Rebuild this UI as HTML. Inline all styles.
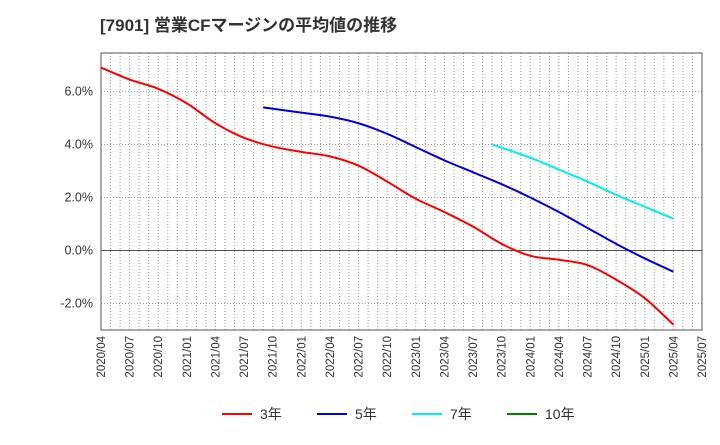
<!DOCTYPE html>
<html><head><meta charset="utf-8"><style>
body{margin:0;background:#fff;font-family:"Liberation Sans","Noto Sans CJK JP",sans-serif;}
</style></head><body>
<svg width="720" height="440" xmlns="http://www.w3.org/2000/svg" style="font-family:'Liberation Sans','Noto Sans CJK JP',sans-serif">
<text x="100" y="31" font-size="17" font-weight="bold" fill="#333">[7901]  営業CFマージンの平均値の推移</text>
<g id="grid"></g><g id="axes"></g><g id="series"></g><g id="legend"></g>
</svg>
<script>
const xLabels=["2020/04","2020/07","2020/10","2021/01","2021/04","2021/07","2021/10","2022/01","2022/04","2022/07","2022/10","2023/01","2023/04","2023/07","2023/10","2024/01","2024/04","2024/07","2024/10","2025/01","2025/04","2025/07"];
const yTicks=[-2,0,2,4,6];
const m3=[0,3,6,9,12,15,18,21,24,27,30,33,36,39,42,45,48,51,54,57,60];
const s3=[6.9,6.45,6.1,5.55,4.8,4.25,3.92,3.72,3.55,3.2,2.6,1.95,1.45,0.9,0.25,-0.2,-0.35,-0.55,-1.1,-1.8,-2.8];
const m5=[17,21,24,27,30,33,36,39,42,45,48,51,54,57,60];
const s5=[5.4,5.2,5.05,4.8,4.4,3.9,3.4,2.95,2.5,2.0,1.45,0.85,0.25,-0.3,-0.8];
const m7=[41,45,48,51,54,57,60];
const s7=[4.0,3.5,3.05,2.6,2.1,1.65,1.2];
const m10=[];
const s10=[];
const L=101,R=702,T=53,B=330,yMin=-3,yMax=7.45;
const xm=m=>L+m*(R-L)/63;
const xs=i=>L+i*(R-L)/21;
const ys=v=>B-(v-yMin)/(yMax-yMin)*(B-T);
const NS="http://www.w3.org/2000/svg";
function mk(t,a,p){const e=document.createElementNS(NS,t);for(const k in a)e.setAttribute(k,a[k]);p.appendChild(e);return e;}
const grid=document.getElementById('grid'),axes=document.getElementById('axes'),ser=document.getElementById('series'),leg=document.getElementById('legend');
for(let m=1;m<63;m++){const x=xm(m);const l=mk('line',{x1:x,x2:x,y1:T,y2:B,stroke:'#999','stroke-dasharray':'1,2','stroke-width':1},grid);

}
yTicks.forEach(v=>{const y=ys(v);const l=mk('line',{x1:L,x2:R,y1:y,y2:y,stroke:v===0?'#555':'#999','stroke-dasharray':v===0?'':'1,2','stroke-width':1},grid);


const t=mk('text',{x:L-8,y:y+4,'text-anchor':'end','font-size':12.5,fill:'#333'},axes);t.textContent=v.toFixed(1)+'%';

});
const fr=mk('rect',{x:L,y:T,width:R-L,height:B-T,fill:'none',stroke:'#555'},axes);


xLabels.forEach((s,i)=>{const x=xs(i);const t=mk('text',{x:0,y:0,transform:`translate(${x+4},${B+6}) rotate(-90)`,'text-anchor':'end','font-size':11.5,fill:'#333'},axes);t.textContent=s;

});
function line(ms,d,c,n){const pts=d.map((v,i)=>[xm(ms[i]),ys(v)]);if(pts.length<2)return;
let p='M'+pts[0][0]+','+pts[0][1];
for(let i=0;i<pts.length-1;i++){const p0=pts[i-1]||pts[i],p1=pts[i],p2=pts[i+1],p3=pts[i+2]||p2;
p+=` C${p1[0]+(p2[0]-p0[0])/6},${p1[1]+(p2[1]-p0[1])/6} ${p2[0]-(p3[0]-p1[0])/6},${p2[1]-(p3[1]-p1[1])/6} ${p2[0]},${p2[1]}`;}
const e=mk('path',{d:p,fill:'none',stroke:c,'stroke-width':2},ser);

}
line(m3,s3,'#ff0000','series-3y');line(m5,s5,'#0000dd','series-5y');line(m7,s7,'#00eeee','series-7y');line(m10,s10,'#008000','series-10y');
[["3年","#ff0000",222],["5年","#0000dd",317],["7年","#00eeee",412],["10年","#008000",507]].forEach(([n,c,x])=>{
const g=mk('g',{},leg);


mk('line',{x1:x,x2:x+30,y1:414,y2:414,stroke:c,'stroke-width':2},g);
const t=mk('text',{x:x+38,y:419,'font-size':14,fill:'#333'},g);t.textContent=n;});
</script>
</body></html>
